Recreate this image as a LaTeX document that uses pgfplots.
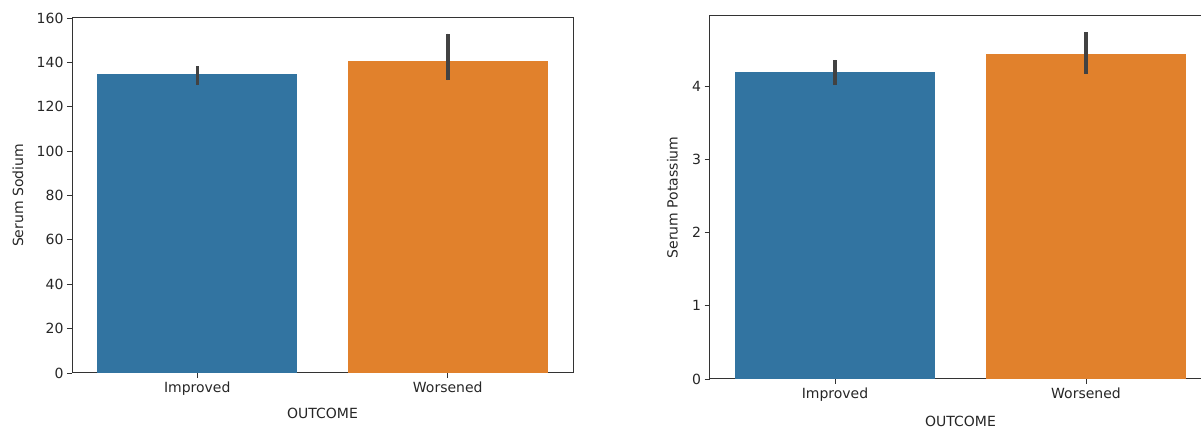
\documentclass[border=0pt]{standalone}
\usepackage{fontspec}
\setmainfont{DejaVu Sans}
\usepackage{pgfplots}
\pgfplotsset{compat=1.18}
\definecolor{sbblue}{HTML}{3274A1}
\definecolor{sborange}{HTML}{E1812C}
\definecolor{errc}{HTML}{424242}
\pgfplotsset{
  mystyle/.style={
    scale only axis, anchor=south west,
    xmin=-0.5, xmax=1.5, ymin=0,
    xtick={0,1}, xticklabels={Improved,Worsened},
    xtick pos=bottom, ytick pos=left,
    tick align=outside, major tick length=5pt,
    tick style={black!80, line width=0.9pt},
    axis line style={black!80, line width=1pt},
    ticklabel style={font=\fontsize{14}{16}\selectfont, text=black!85},
    /pgf/number format/assume math mode=true,
    xlabel={OUTCOME},
  },
  xlab/.style={every axis x label/.style={at={(axis description cs:0.5,0)}, anchor=center, yshift=-#1, font=\fontsize{14}{16}\selectfont, text=black!85}},
  ylab/.style={every axis y label/.style={at={(axis description cs:0,0.5)}, xshift=-#1, rotate=90, anchor=center, font=\fontsize{14}{16}\selectfont, text=black!85}},
  mybar/.style={ybar, bar width=200pt, bar shift=0pt, draw=none, fill=#1,
    error bars/.cd, y dir=both, y explicit, error mark=none,
    error bar style={line width=3.5pt, errc}},
}
\begin{document}
\begin{tikzpicture}
\begin{axis}[mystyle, at={(72pt,57pt)}, width=501pt, height=355pt,
  ymax=160, ytick={0,20,...,160}, ylabel={Serum Sodium},
  xlab=40pt, ylab=54pt]
\addplot[mybar=sbblue] coordinates {(0,134.6) += (0,3.6) -= (0,4.9)};
\addplot[mybar=sborange] coordinates {(1,140.5) += (0,12.4) -= (0,8.5)};
\end{axis}
\begin{axis}[mystyle, at={(709.5pt,51pt)}, width=502pt, height=363pt,
  ymax=4.96, ytick={0,1,2,3,4}, ylabel={Serum Potassium},
  xlab=42pt, ylab=37pt]
\addplot[mybar=sbblue] coordinates {(0,4.19) += (0,0.17) -= (0,0.17)};
\addplot[mybar=sborange] coordinates {(1,4.44) += (0,0.30) -= (0,0.27)};
\end{axis}
\pgfresetboundingbox
\path[use as bounding box] (0,0) rectangle (1201pt,430pt);
\end{tikzpicture}
\end{document}
